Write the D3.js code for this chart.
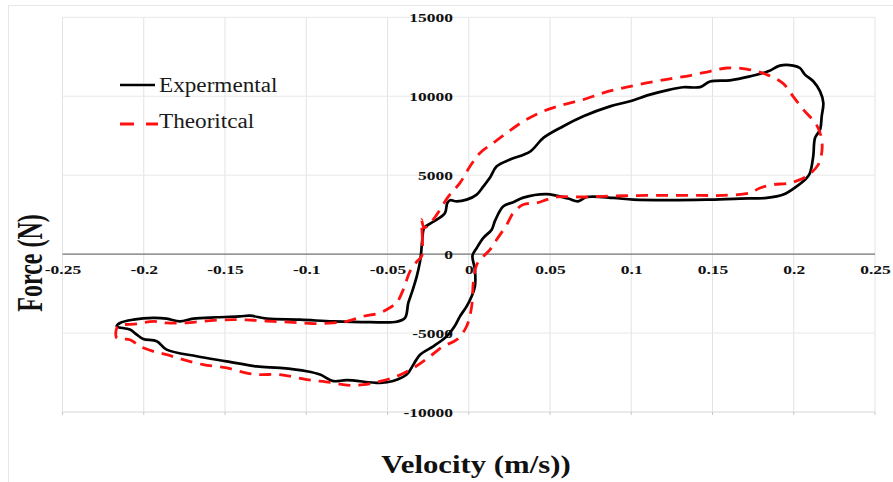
<!DOCTYPE html>
<html>
<head>
  <meta charset="utf-8" />
  <title>Force vs Velocity</title>
  <script src="https://d3js.org/d3.v7.min.js"></script>
  <style>
    body { margin: 0; background: #fff; }
    svg { display: block; }
    .tick text { font-family: "Liberation Serif", "Times New Roman", serif; font-weight: bold; font-size: 12.5px; fill: #111; }
  </style>
</head>
<body>
<svg id="chart" width="893" height="482"></svg>
<script>
  // tick labels
  var xTicks = [-0.25, -0.2, -0.15, -0.1, -0.05, 0, 0.05, 0.1, 0.15, 0.2, 0.25];
  var yTicks = [-10000, -5000, 0, 5000, 10000, 15000];
  var seriesNames = ["Expermental", "Theoritcal"];

  // experimental loop (velocity m/s, force N)
  var expVel = [-0.0294, -0.0286, -0.0274, -0.0238, -0.0197, -0.0146, -0.0132, -0.0115, -0.0074, -0.0013,
    0.0049, 0.0090, 0.0131, 0.0172, 0.0254, 0.0377, 0.0459, 0.0582, 0.0705, 0.0869,
    0.0992, 0.1115, 0.1238, 0.1320, 0.1423, 0.1485, 0.1608, 0.1731, 0.1843, 0.1915,
    0.1997, 0.2038, 0.2069, 0.2120, 0.2162, 0.2182, 0.2172, 0.2162, 0.2131, 0.2120,
    0.2100, 0.2080, 0.2018, 0.1936, 0.1834, 0.1669, 0.1464, 0.1238, 0.1013, 0.0890,
    0.0726, 0.0672, 0.0611, 0.0480, 0.0336, 0.0274, 0.0213, 0.0162, 0.0141, 0.0090,
    0.0049, 0.0023, 0.0038, 0.0038, 0.0018, -0.0013, -0.0054, -0.0085, -0.0136, -0.0218,
    -0.0300, -0.0341, -0.0382, -0.0466, -0.0546, -0.0751, -0.0834, -0.0915, -0.0997, -0.1162,
    -0.1305, -0.1490, -0.1674, -0.1859, -0.1920, -0.2003, -0.2043, -0.2085, -0.2166, -0.2146,
    -0.2064, -0.1941, -0.1859, -0.1777, -0.1695, -0.1551, -0.1408, -0.1346, -0.1243, -0.1038,
    -0.0834, -0.0608, -0.0443, -0.0392, -0.0372, -0.0351, -0.0320, -0.0300];
  var expForce = [-30, 920, 1660, 1930, 2185, 2610, 3240, 3410, 3340, 3450,
    3770, 4290, 4850, 5560, 5990, 6490, 7360, 8100, 8730, 9360,
    9680, 10100, 10420, 10570, 10580, 10930, 11010, 11260, 11580, 11940,
    11940, 11790, 11370, 10950, 10310, 9580, 8730, 7890, 7360, 6200,
    5140, 4830, 4290, 3770, 3560, 3520, 3450, 3420, 3450, 3560,
    3620, 3340, 3520, 3800, 3580, 3290, 3030, 2120, 1550, 1030,
    390, -95, -980, -2040, -2670, -3310, -3940, -4530, -5210, -5840,
    -6370, -7000, -7630, -8040, -8160, -7980, -8040, -7630, -7420, -7210,
    -7110, -6790, -6470, -6050, -5520, -5370, -5100, -4780, -4570, -4360,
    -4150, -4040, -4090, -4260, -4090, -4000, -3940, -3900, -4090, -4150,
    -4260, -4310, -4280, -4040, -3090, -2460, -1410, -475];

  // theoretical loop
  var thVel = [-0.0290, -0.0285, -0.0291, -0.0275, -0.0251, -0.0197, -0.0126, -0.0054, 0.0008, 0.0069,
    0.0151, 0.0234, 0.0336, 0.0459, 0.0582, 0.0705, 0.0828, 0.0951, 0.1095, 0.1238,
    0.1362, 0.1485, 0.1587, 0.1710, 0.1834, 0.1936, 0.1997, 0.2059, 0.2141, 0.2172,
    0.2172, 0.2151, 0.2080, 0.1977, 0.1874, 0.1792, 0.1731, 0.1566, 0.1423, 0.1238,
    0.1034, 0.0828, 0.0726, 0.0541, 0.0480, 0.0418, 0.0336, 0.0274, 0.0234, 0.0172,
    0.0131, 0.0090, 0.0049, 0.0028, 0.0018, -0.0013, -0.0074, -0.0157, -0.0238, -0.0341,
    -0.0443, -0.0546, -0.0649, -0.0751, -0.0854, -0.0997, -0.1162, -0.1285, -0.1366, -0.1490,
    -0.1634, -0.1757, -0.1859, -0.1941, -0.2023, -0.2085, -0.2166, -0.2166, -0.2146, -0.2043,
    -0.1941, -0.1859, -0.1757, -0.1592, -0.1449, -0.1326, -0.1203, -0.1080, -0.0957, -0.0834,
    -0.0751, -0.0649, -0.0546, -0.0485, -0.0443, -0.0403, -0.0362, -0.0320];
  var thForce = [-140, 920, 2190, 1680, 1810, 2500, 3640, 4510, 5560, 6410,
    7040, 7680, 8410, 9050, 9470, 9790, 10210, 10530, 10840, 11100,
    11310, 11580, 11790, 11720, 11370, 10800, 9980, 9150, 8170, 7250,
    6410, 5670, 4930, 4510, 4400, 4190, 3880, 3720, 3720, 3720,
    3710, 3660, 3620, 3620, 3450, 3240, 3140, 2610, 1870, 920,
    285, -140, -665, -1820, -3310, -4570, -5420, -5840, -6470, -7210,
    -7740, -8060, -8270, -8300, -8120, -7950, -7630, -7630, -7530, -7210,
    -7000, -6680, -6370, -6160, -5840, -5420, -5310, -4680, -4510, -4420,
    -4260, -4360, -4360, -4210, -4150, -4190, -4260, -4320, -4400, -4360,
    -4260, -3940, -3720, -3390, -3070, -2250, -1110, -475];

  var svg = d3.select("#chart");
  var serif = '"Liberation Serif", "Times New Roman", serif';

  var x = d3.scaleLinear().domain([-0.25, 0.25]).range([62.5, 875]);
  var y = d3.scaleLinear().domain([-10000, 15000]).range([412, 17.3]);

  // outer frame
  svg.append("rect")
    .attr("x", 8.5).attr("y", 5.5)
    .attr("width", 900).attr("height", 500)
    .attr("fill", "none").attr("stroke", "#e6e6e6");

  // grid
  svg.append("g")
    .selectAll("line")
    .data(xTicks)
    .enter().append("line")
    .attr("x1", function (d) { return x(d); })
    .attr("x2", function (d) { return x(d); })
    .attr("y1", y(15000)).attr("y2", y(-10000))
    .attr("stroke", "#e3e3e3").attr("stroke-width", 1);

  svg.append("g")
    .selectAll("line")
    .data(yTicks)
    .enter().append("line")
    .attr("x1", x(-0.25)).attr("x2", x(0.25))
    .attr("y1", function (d) { return y(d); })
    .attr("y2", function (d) { return y(d); })
    .attr("stroke", function (d) { return d === -10000 ? "#d6d6d6" : "#e8e8e8"; })
    .attr("stroke-width", 1);

  // small marks under the bottom line
  svg.append("g")
    .selectAll("line")
    .data(xTicks)
    .enter().append("line")
    .attr("x1", function (d) { return x(d); })
    .attr("x2", function (d) { return x(d); })
    .attr("y1", y(-10000)).attr("y2", y(-10000) + 3)
    .attr("stroke", "#c8c8c8");

  // zero axis line
  svg.append("line")
    .attr("x1", x(-0.25)).attr("x2", x(0.25))
    .attr("y1", y(0)).attr("y2", y(0))
    .attr("stroke", "#777").attr("stroke-width", 1.4);

  // tick labels
  var xAxis = d3.axisBottom(x).tickValues(xTicks).tickSize(0)
    .tickFormat(function (d) { return d3.format("")(d); });
  var gx = svg.append("g").attr("transform", "translate(0," + y(0) + ")").call(xAxis);
  gx.select(".domain").remove();
  gx.selectAll("text")
    .attr("y", 20).attr("dy", null)
    .attr("transform", "scale(1.4,1)")
    .text(function (d) { return String(d).replace("-", "-"); });

  var yAxis = d3.axisLeft(y).tickValues(yTicks).tickSize(0).tickPadding(0)
    .tickFormat(function (d) { return String(d); });
  var gy = svg.append("g").attr("transform", "translate(453,0)").call(yAxis);
  gy.select(".domain").remove();
  gy.selectAll("text").attr("transform", "scale(1.4,1)");

  // curves
  var line = d3.line()
    .x(function (d) { return x(d[0]); })
    .y(function (d) { return y(d[1]); })
    .curve(d3.curveCatmullRomClosed.alpha(0.5));

  var thData = thVel.map(function (v, i) { return [v, thForce[i]]; });
  var expData = expVel.map(function (v, i) { return [v, expForce[i]]; });

  svg.append("path")
    .datum(expData)
    .attr("d", line)
    .attr("fill", "none")
    .attr("stroke", "#000")
    .attr("stroke-width", 2.7)
    .attr("stroke-linejoin", "round");

  svg.append("path")
    .datum(thData)
    .attr("d", line)
    .attr("fill", "none")
    .attr("stroke", "#ff1010")
    .attr("stroke-width", 2.8)
    .attr("stroke-dasharray", "12,8");

  // legend
  var legend = svg.append("g");
  legend.append("line")
    .attr("x1", 120).attr("x2", 155).attr("y1", 85).attr("y2", 85)
    .attr("stroke", "#000").attr("stroke-width", 2.7);
  legend.append("line")
    .attr("x1", 120).attr("x2", 158).attr("y1", 124).attr("y2", 124)
    .attr("stroke", "#ff1010").attr("stroke-width", 2.8)
    .attr("stroke-dasharray", "14,12");
  legend.selectAll("text")
    .data(seriesNames)
    .enter().append("text")
    .attr("transform", function (d, i) { return "translate(159," + (91.7 + i * 36.6) + ") scale(1.16,1)"; })
    .attr("font-family", serif)
    .attr("font-size", 20)
    .attr("fill", "#1a1a1a")
    .text(function (d) { return d; });

  // axis titles
  svg.append("text")
    .attr("transform", "translate(476,473) scale(1.23,1)")
    .attr("text-anchor", "middle")
    .attr("font-family", serif)
    .attr("font-weight", "bold")
    .attr("font-size", 25)
    .attr("fill", "#111")
    .text("Velocity (m/s))");

  svg.append("text")
    .attr("transform", "translate(41.5,263) scale(1.47,1) rotate(-90)")
    .attr("text-anchor", "middle")
    .attr("font-family", serif)
    .attr("font-weight", "bold")
    .attr("font-size", 24)
    .attr("fill", "#111")
    .text("Force (N)");
</script>
</body>
</html>
